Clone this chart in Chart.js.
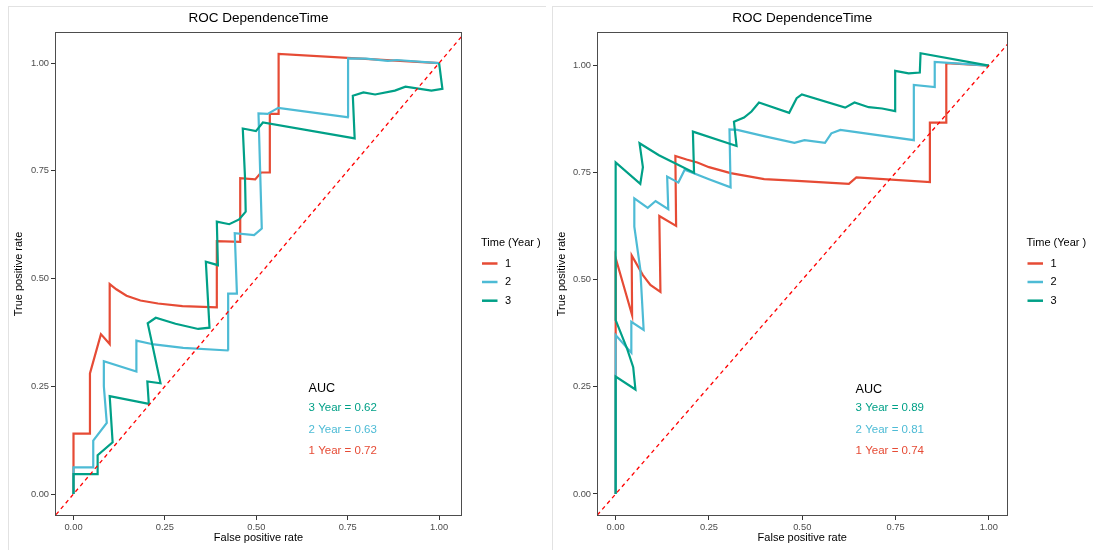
<!DOCTYPE html>
<html>
<head>
<meta charset="utf-8">
<script src="https://cdn.jsdelivr.net/npm/chart.js@4.4.1/dist/chart.umd.min.js"></script>
<style>
  body { margin: 0; background: #fff; width: 1093px; height: 550px; overflow: hidden; position: relative; }
  .frame { position: absolute; top: 6px; height: 560px; border-top: 1px solid #e2e2e2; border-left: 1px solid #e2e2e2; }
  #f1 { left: 8px; width: 537px; }
  #f2 { left: 552px; width: 560px; }
  canvas { position: absolute; top: 0; }
  #left { left: 0; }
  #right { left: 546px; }
</style>
</head>
<body>
<div class="frame" id="f1"></div>
<div class="frame" id="f2"></div>
<canvas id="left" width="546" height="550"></canvas>
<canvas id="right" width="547" height="550"></canvas>
<script>
// Courbes ROC (FPR / TPR)
const tickVals = [0, 0.25, 0.5, 0.75, 1];
const yearLabels = ['1', '2', '3'];
const colors = ['#E64B35', '#4DBBD5', '#00A087'];

// Panneau gauche
const fprL1 = [0, 0, 0.045, 0.045, 0.075, 0.099, 0.099, 0.117, 0.145, 0.183, 0.231, 0.298, 0.392, 0.392, 0.456, 0.456, 0.497, 0.513, 0.537, 0.537, 0.561, 0.561, 1.0];
const tprL1 = [0, 0.140, 0.140, 0.280, 0.371, 0.348, 0.487, 0.475, 0.460, 0.449, 0.442, 0.436, 0.433, 0.587, 0.585, 0.733, 0.730, 0.746, 0.746, 0.882, 0.882, 1.021, 1.0];
const fprL2 = [0, 0, 0.054, 0.054, 0.091, 0.083, 0.083, 0.172, 0.172, 0.22, 0.30, 0.424, 0.423, 0.447, 0.441, 0.494, 0.515, 0.506, 0.531, 0.560, 0.753, 0.751, 0.80, 0.86, 0.884, 1.0];
const tprL2 = [0, 0.062, 0.062, 0.124, 0.165, 0.250, 0.308, 0.284, 0.356, 0.347, 0.339, 0.333, 0.465, 0.465, 0.605, 0.601, 0.616, 0.883, 0.882, 0.896, 0.874, 1.011, 1.010, 1.005, 1.007, 1.0];
const fprL3 = [0, 0, 0.066, 0.066, 0.107, 0.099, 0.206, 0.202, 0.238, 0.214, 0.203, 0.225, 0.279, 0.341, 0.372, 0.362, 0.395, 0.392, 0.426, 0.453, 0.471, 0.469, 0.463, 0.499, 0.518, 0.769, 0.764, 0.793, 0.825, 0.879, 0.908, 0.979, 1.009, 1.0];
const tprL3 = [0, 0.046, 0.046, 0.090, 0.120, 0.227, 0.209, 0.261, 0.257, 0.353, 0.396, 0.409, 0.395, 0.383, 0.386, 0.539, 0.531, 0.632, 0.626, 0.637, 0.655, 0.736, 0.848, 0.842, 0.862, 0.825, 0.924, 0.932, 0.927, 0.936, 0.945, 0.936, 0.940, 1.0];
const aucL = ['3 Year = 0.62', '2 Year = 0.63', '1 Year = 0.72'];

// Panneau droit
const fprR1 = [0, 0, 0.044, 0.043, 0.073, 0.093, 0.120, 0.117, 0.162, 0.160, 0.19, 0.219, 0.25, 0.308, 0.398, 0.487, 0.625, 0.645, 0.842, 0.842, 0.886, 0.886, 1.0];
const tprR1 = [0, 0.551, 0.418, 0.557, 0.511, 0.488, 0.472, 0.649, 0.626, 0.789, 0.781, 0.774, 0.763, 0.749, 0.735, 0.731, 0.724, 0.739, 0.728, 0.867, 0.867, 1.006, 1.0];
const fprR2 = [0, 0, 0.042, 0.042, 0.075, 0.066, 0.050, 0.050, 0.086, 0.107, 0.141, 0.138, 0.168, 0.185, 0.25, 0.308, 0.305, 0.326, 0.40, 0.479, 0.506, 0.561, 0.578, 0.602, 0.799, 0.799, 0.855, 0.855, 1.0];
const tprR2 = [0, 0.371, 0.330, 0.402, 0.383, 0.525, 0.624, 0.690, 0.668, 0.684, 0.665, 0.741, 0.727, 0.757, 0.735, 0.716, 0.851, 0.850, 0.835, 0.820, 0.826, 0.820, 0.842, 0.850, 0.826, 0.955, 0.950, 1.009, 1.0];
const fprR3 = [0, 0, 0.053, 0.047, 0.031, 0, 0, 0.066, 0.073, 0.064, 0.116, 0.210, 0.207, 0.324, 0.317, 0.344, 0.364, 0.384, 0.465, 0.485, 0.499, 0.615, 0.640, 0.678, 0.714, 0.749, 0.749, 0.785, 0.815, 0.817, 1.0];
const tprR3 = [0, 0.274, 0.244, 0.296, 0.338, 0.406, 0.774, 0.724, 0.763, 0.819, 0.791, 0.750, 0.846, 0.8125, 0.869, 0.879, 0.893, 0.914, 0.890, 0.924, 0.933, 0.902, 0.914, 0.903, 0.900, 0.894, 0.988, 0.982, 0.984, 1.029, 1.0];
const aucR = ['3 Year = 0.89', '2 Year = 0.81', '1 Year = 0.74'];

const FONT = '"Liberation Sans", Arial, sans-serif';
Chart.defaults.font.family = FONT;

const toPts = (xs, ys) => xs.map((v, i) => ({ x: v, y: ys[i] }));

// titre, legende, cadre et texte AUC
const panelDecor = {
  id: 'panelDecor',
  afterDatasetsDraw(chart, args, opts) {
    const { ctx, chartArea: a, scales: { x, y } } = chart;
    ctx.save();
    ctx.strokeStyle = '#4d4d4d';
    ctx.lineWidth = 1;
    ctx.strokeRect(Math.round(a.left) + 0.5, Math.round(a.top) + 0.5, Math.round(a.right - a.left) - 1, Math.round(a.bottom - a.top) - 1);

    ctx.fillStyle = '#000';
    ctx.textBaseline = 'middle';
    ctx.textAlign = 'center';
    ctx.font = '13.5px ' + FONT;
    ctx.fillText('ROC DependenceTime', (a.left + a.right) / 2, 18);

    // AUC
    ctx.textAlign = 'left';
    const ax = x.getPixelForValue(0.643);
    ctx.font = '12.6px ' + FONT;
    ctx.fillText('AUC', ax, y.getPixelForValue(0.245));
    ctx.font = '11.5px ' + FONT;
    const aucY = [0.2, 0.149, 0.1];
    opts.auc.forEach((t, i) => {
      ctx.fillStyle = colors[2 - i];
      ctx.fillText(t, ax, y.getPixelForValue(aucY[i]));
    });

    // legende
    const lx = a.right + 19;
    ctx.fillStyle = '#000';
    ctx.font = '11px ' + FONT;
    ctx.fillText('Time (Year )', lx, 243);
    const rows = [263.5, 282, 300.7];
    yearLabels.forEach((lab, i) => {
      ctx.strokeStyle = colors[i];
      ctx.lineWidth = 2.5;
      ctx.beginPath();
      ctx.moveTo(lx + 1, rows[i]);
      ctx.lineTo(lx + 16.5, rows[i]);
      ctx.stroke();
      ctx.fillStyle = '#000';
      ctx.fillText(lab, lx + 24, rows[i]);
    });
    ctx.restore();
  }
};

function makeChart(id, curves, xr, yr, axisW, padRight, yTitlePad, auc) {
  const datasets = [{
    label: 'diag',
    data: [{ x: -0.3, y: -0.3 }, { x: 1.3, y: 1.3 }],
    borderColor: '#FF0000',
    borderWidth: 1.3,
    borderDash: [4, 3.5],
    order: 0,
  }];
  curves.forEach((c, i) => {
    datasets.push({
      label: yearLabels[i],
      data: toPts(c[0], c[1]),
      borderColor: colors[i],
      borderWidth: 2.2,
      order: 3 - i,
    });
  });
  datasets.forEach(d => {
    d.showLine = true;
    d.pointRadius = 0;
    d.tension = 0;
    d.clip = 0;
    d.borderJoinStyle = 'miter';
  });

  const axisCommon = (title) => ({
    type: 'linear',
    afterBuildTicks: (s) => { s.ticks = tickVals.map(v => ({ value: v })); },
    ticks: { color: '#4d4d4d', font: { size: 9.3 }, padding: 2, callback: (v) => Number(v).toFixed(2), maxRotation: 0 },
    grid: { display: true, drawOnChartArea: false, drawTicks: true, tickLength: 4, color: '#333', lineWidth: 1 },
    border: { display: false },
    title: { display: true, text: title, color: '#000', font: { size: 11 } },
  });

  const xAxis = axisCommon('False positive rate');
  xAxis.min = xr[0]; xAxis.max = xr[1];
  xAxis.title.padding = { top: 5.4, bottom: 5.4 };
  xAxis.afterFit = (s) => { s.height = 34; };

  const yAxis = axisCommon('True positive rate');
  yAxis.min = yr[0]; yAxis.max = yr[1];
  yAxis.title.padding = { top: yTitlePad, bottom: yTitlePad };
  yAxis.afterFit = (s) => { s.width = axisW; };

  return new Chart(document.getElementById(id), {
    type: 'scatter',
    data: { datasets },
    options: {
      responsive: false,
      animation: false,
      devicePixelRatio: 1,
      layout: { padding: { left: 0, right: padRight, top: 32, bottom: 0 } },
      scales: { x: xAxis, y: yAxis },
      plugins: {
        legend: { display: false },
        tooltip: { enabled: false },
        panelDecor: { auc },
      },
    },
    plugins: [panelDecor],
  });
}

makeChart('left', [[fprL1, tprL1], [fprL2, tprL2], [fprL3, tprL3]], [-0.0506, 1.0626], [-0.051, 1.072], 55, 84, 12.7, aucL);
makeChart('right', [[fprR1, tprR1], [fprR2, tprR2], [fprR3, tprR3]], [-0.05, 1.05], [-0.0514, 1.0786], 51, 85.5, 9.2, aucR);
</script>
</body>
</html>
